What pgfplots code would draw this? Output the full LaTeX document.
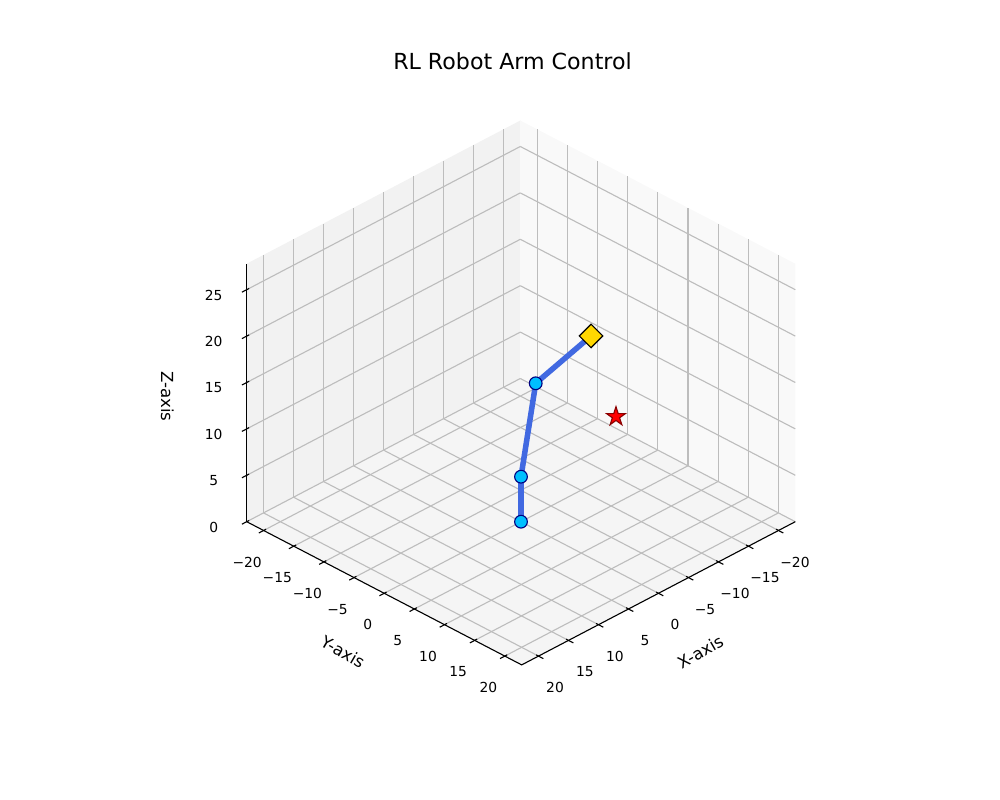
\documentclass[border=0pt]{standalone}
\usepackage{fontspec}
\setmainfont{DejaVu Sans}
\usepackage{pgfplots}
\pgfplotsset{compat=1.18}
\definecolor{paneX}{HTML}{F9F9F9}
\definecolor{paneY}{HTML}{F2F2F2}
\definecolor{paneZ}{HTML}{F5F5F5}
\definecolor{gridc}{HTML}{BDBDBD}
\definecolor{armblue}{HTML}{4169E1}
\definecolor{jointc}{HTML}{00BFFF}
\definecolor{navyc}{HTML}{000080}
\definecolor{goldc}{HTML}{FFD700}
\definecolor{darkredc}{HTML}{8B0000}
\pgfdeclareplotmark{fstar}{%
  \pgfpathmoveto{\pgfpoint{0pt}{\pgfplotmarksize}}%
  \pgfpathlineto{\pgfpoint{-0.2245\pgfplotmarksize}{0.3090\pgfplotmarksize}}%
  \pgfpathlineto{\pgfpoint{-0.9511\pgfplotmarksize}{0.3090\pgfplotmarksize}}%
  \pgfpathlineto{\pgfpoint{-0.3633\pgfplotmarksize}{-0.1180\pgfplotmarksize}}%
  \pgfpathlineto{\pgfpoint{-0.5878\pgfplotmarksize}{-0.8090\pgfplotmarksize}}%
  \pgfpathlineto{\pgfpoint{0pt}{-0.3820\pgfplotmarksize}}%
  \pgfpathlineto{\pgfpoint{0.5878\pgfplotmarksize}{-0.8090\pgfplotmarksize}}%
  \pgfpathlineto{\pgfpoint{0.3633\pgfplotmarksize}{-0.1180\pgfplotmarksize}}%
  \pgfpathlineto{\pgfpoint{0.9511\pgfplotmarksize}{0.3090\pgfplotmarksize}}%
  \pgfpathlineto{\pgfpoint{0.2245\pgfplotmarksize}{0.3090\pgfplotmarksize}}%
  \pgfpathclose
  \pgfusepathqfillstroke
}
\begin{document}
\begin{tikzpicture}
\begin{axis}[
  set layers,
  anchor=origin, at={(5.21in,2.783in)},
  x={(-0.0600in,-0.0314in)}, y={(0.0603in,-0.0314in)}, z={(0in,0.0928in)},
  xmin=-22.8, xmax=22.8, ymin=-22.8, ymax=22.8, zmin=0, zmax=27.8,
  xtick={-20,-15,-10,-5,0,5,10,15,20},
  xticklabels={−20,−15,−10,−5,0,5,10,15,20},
  ytick={-20,-15,-10,-5,0,5,10,15,20},
  yticklabels={−20,−15,−10,−5,0,5,10,15,20},
  ztick={0,5,10,15,20,25},
  zticklabels={0,5,10,15,20,25},
  tick pos=right,
  ticklabel pos=left,
  grid=major,
  major grid style={draw=gridc, line width=0.8pt},
  axis line style={draw=none},
  tick style={draw=none},
  major tick length=0pt,
  ticklabel style={font=\fontsize{10}{12}\selectfont},
  xticklabel style={anchor=center, xshift=0.165in, yshift=-0.315in},
  yticklabel style={anchor=center, xshift=-0.165in, yshift=-0.315in},
  zticklabel style={anchor=center, xshift=-0.33in, yshift=-0.055in},
  xlabel={X-axis}, ylabel={Y-axis}, zlabel={Z-axis},
  every axis x label/.style={at={(axis cs:5.9,35.6,0)}, anchor=center, rotate=30, font=\fontsize{12}{14}\selectfont},
  every axis y label/.style={at={(axis cs:35.6,5.9,0)}, anchor=center, rotate=-30, font=\fontsize{12}{14}\selectfont},
  every axis z label/.style={at={(axis cs:29.4,-29.4,13.5)}, anchor=center, rotate=-90, font=\fontsize{12}{14}\selectfont},
  clip=false,
  unbounded coords=jump,
]
\addplot3[draw=none, fill=paneY, on layer=axis background] coordinates {(22.8,-22.8,0) (-22.8,-22.8,0) (-22.8,-22.8,27.8) (22.8,-22.8,27.8)};
\addplot3[draw=none, fill=paneX, on layer=axis background] coordinates {(-22.8,-22.8,0) (-22.8,22.8,0) (-22.8,22.8,27.8) (-22.8,-22.8,27.8)};
\addplot3[draw=none, fill=paneZ, on layer=axis background] coordinates {(22.8,-22.8,0) (22.8,22.8,0) (-22.8,22.8,0) (-22.8,-22.8,0)};
% axis lines
\addplot3[black, line width=0.8pt] coordinates {(22.8,-22.8,0) (22.8,22.8,0) (-22.8,22.8,0)};
\addplot3[black, line width=0.8pt] coordinates {(22.8,-22.8,0) (22.8,-22.8,27.8)};
% tick marks
\addplot3[black, line width=0.8pt] coordinates {
 (-20,22.4,0) (-20,23.6,0) (nan,nan,nan)
 (-15,22.4,0) (-15,23.6,0) (nan,nan,nan)
 (-10,22.4,0) (-10,23.6,0) (nan,nan,nan)
 (-5,22.4,0) (-5,23.6,0) (nan,nan,nan)
 (0,22.4,0) (0,23.6,0) (nan,nan,nan)
 (5,22.4,0) (5,23.6,0) (nan,nan,nan)
 (10,22.4,0) (10,23.6,0) (nan,nan,nan)
 (15,22.4,0) (15,23.6,0) (nan,nan,nan)
 (20,22.4,0) (20,23.6,0) (nan,nan,nan)
 (22.4,-20,0) (23.6,-20,0) (nan,nan,nan)
 (22.4,-15,0) (23.6,-15,0) (nan,nan,nan)
 (22.4,-10,0) (23.6,-10,0) (nan,nan,nan)
 (22.4,-5,0) (23.6,-5,0) (nan,nan,nan)
 (22.4,0,0) (23.6,0,0) (nan,nan,nan)
 (22.4,5,0) (23.6,5,0) (nan,nan,nan)
 (22.4,10,0) (23.6,10,0) (nan,nan,nan)
 (22.4,15,0) (23.6,15,0) (nan,nan,nan)
 (22.4,20,0) (23.6,20,0) (nan,nan,nan)
 (22.4,-22.8,0) (23.6,-22.8,0) (nan,nan,nan)
 (22.4,-22.8,5) (23.6,-22.8,5) (nan,nan,nan)
 (22.4,-22.8,10) (23.6,-22.8,10) (nan,nan,nan)
 (22.4,-22.8,15) (23.6,-22.8,15) (nan,nan,nan)
 (22.4,-22.8,20) (23.6,-22.8,20) (nan,nan,nan)
 (22.4,-22.8,25) (23.6,-22.8,25)
};
% robot arm
\addplot3[armblue, line width=4pt] coordinates {(0,0,0) (0,0,4.85) (0,2.44,15.74) (0,11.61,23.94)};
\addplot3[only marks, mark=*, mark size=4.6pt, mark options={fill=jointc, draw=navyc, line width=0.8pt}] coordinates {(0,0,0) (0,0,4.85) (0,2.44,15.74)};
\addplot3[only marks, mark=square*, mark size=6pt, mark options={rotate=45, fill=goldc, draw=black, line width=0.8pt}] coordinates {(0,11.61,23.94)};
\addplot3[only marks, mark=fstar, mark size=7.2pt, mark options={fill=red, draw=darkredc, line width=0.8pt}] coordinates {(0,15.75,16.65)};
\end{axis}
\node[font=\fontsize{16}{19}\selectfont] at (5.125in,7.39in) {RL Robot Arm Control};
\pgfresetboundingbox
\useasboundingbox (0,0) rectangle (10in,8in);
\end{tikzpicture}
\end{document}
